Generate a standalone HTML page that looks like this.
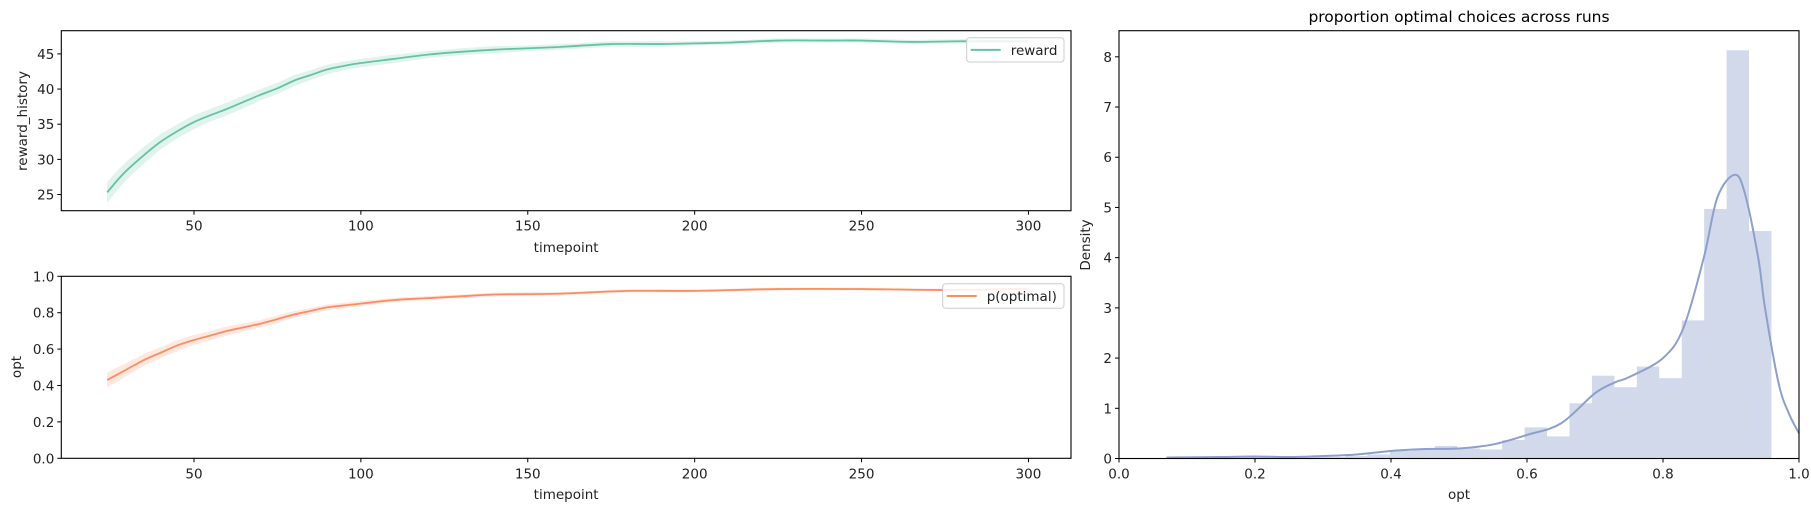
<!DOCTYPE html>
<html><head><meta charset="utf-8"><style>
html,body{margin:0;padding:0;background:#fff}
svg{display:block;font-family:"DejaVu Sans","Liberation Sans",sans-serif}
</style></head><body>
<svg id="fig" width="1811" height="511" viewBox="0 0 1811 511">
<text x="1459" y="22" font-size="15.5" text-anchor="middle" fill="#000">proportion optimal choices across runs</text>
</svg>
<script>
// ---- data ----
const rewardT = [24,27,30,35,40,45,50,55,60,65,70,75,80,85,90,95,100,110,120,130,140,150,160,175,190,200,210,225,240,250,265,280,300];
const rewardY = [25.3,27.0,28.5,30.6,32.5,34.0,35.3,36.3,37.2,38.2,39.2,40.1,41.2,42.0,42.8,43.3,43.7,44.3,44.9,45.3,45.6,45.8,46.0,46.4,46.4,46.5,46.6,46.9,46.9,46.9,46.7,46.8,46.8];
const rewardCI = [1.5,1.4,1.3,1.2,1.1,1.0,1.0,0.9,0.9,0.9,0.8,0.8,0.8,0.7,0.7,0.6,0.6,0.6,0.5,0.5,0.5,0.4,0.4,0.4,0.4,0.3,0.3,0.3,0.3,0.3,0.3,0.3,0.3];
const optT = [24,27,30,35,40,45,50,55,60,65,70,75,80,85,90,95,100,110,120,130,140,160,180,200,225,250,275,300];
const optY = [0.43,0.46,0.49,0.54,0.58,0.62,0.65,0.675,0.70,0.72,0.74,0.765,0.79,0.81,0.83,0.84,0.85,0.87,0.88,0.89,0.90,0.905,0.92,0.92,0.93,0.93,0.925,0.93];
const optCI = [0.04,0.04,0.035,0.033,0.03,0.03,0.028,0.025,0.025,0.022,0.02,0.02,0.018,0.017,0.016,0.015,0.014,0.012,0.011,0.01,0.01,0.009,0.008,0.008,0.007,0.007,0.007,0.007];
const binStart = 0.0685, binWidth = 0.033;
const binHeights = [0.02,0.02,0.02,0.05,0.02,0.02,0.03,0.03,0.05,0.08,0.15,0.17,0.25,0.2,0.18,0.37,0.62,0.44,1.1,1.65,1.42,1.83,1.6,2.75,4.97,8.13,4.53];
const kdeX = [0.07,0.15,0.2,0.25,0.3,0.35,0.4,0.45,0.5,0.55,0.6,0.65,0.7,0.73,0.75,0.8,0.83,0.86,0.88,0.905,0.92,0.94,0.95,0.97,0.985,1.0];
const kdeY = [0.02,0.03,0.04,0.03,0.05,0.08,0.15,0.19,0.2,0.28,0.47,0.7,1.3,1.52,1.62,2.0,2.6,4.0,5.2,5.65,5.3,4.0,3.0,1.5,0.9,0.5];
const xTicksTime = [50,100,150,200,250,300];
const yTicksReward = [25,30,35,40,45];
const yTicksOpt = [0,0.2,0.4,0.6,0.8,1.0];
const xTicksHist = [0,0.2,0.4,0.6,0.8,1.0];
const yTicksHist = [0,1,2,3,4,5,6,7,8];

const NS="http://www.w3.org/2000/svg";
const svg=document.getElementById('fig');
function mk(tag,attrs,parent){const e=document.createElementNS(NS,tag);for(const k in attrs)e.setAttribute(k,attrs[k]);(parent||svg).appendChild(e);return e;}
function scale(d0,d1,r0,r1){return v=>r0+(v-d0)/(d1-d0)*(r1-r0);}
function fmt(v,dec){return v.toFixed(dec);}
function smooth(pts){
  let d='M'+pts[0][0]+','+pts[0][1];
  for(let i=0;i<pts.length-1;i++){
    const p0=pts[Math.max(0,i-1)],p1=pts[i],p2=pts[i+1],p3=pts[Math.min(pts.length-1,i+2)];
    const c1=[p1[0]+(p2[0]-p0[0])/6,p1[1]+(p2[1]-p0[1])/6];
    const c2=[p2[0]-(p3[0]-p1[0])/6,p2[1]-(p3[1]-p1[1])/6];
    d+=' C'+c1[0]+','+c1[1]+' '+c2[0]+','+c2[1]+' '+p2[0]+','+p2[1];
  }
  return d;
}

function axesFrame(x0,y0,x1,y1,name){
  const r=mk('rect',{x:x0,y:y0,width:x1-x0,height:y1-y0,fill:'none',stroke:'#000','stroke-width':1.1});
  
  
}
function xTicks(ticks,sx,y,dec,name){
  ticks.forEach(t=>{const x=sx(t);
    const l=mk('line',{x1:x,x2:x,y1:y,y2:y+4,stroke:'#000'});
    
    
    const tx=mk('text',{x:x,y:y+20,'font-size':13.5,'text-anchor':'middle',fill:'#222'});
    tx.textContent=fmt(t,dec);
    
    
  });
}
function yTicks(ticks,sy,x,dec,name){
  ticks.forEach(t=>{const y=sy(t);
    const l=mk('line',{x1:x-4,x2:x,y1:y,y2:y,stroke:'#000'});
    
    
    const tx=mk('text',{x:x-7,y:y+5,'font-size':13.5,'text-anchor':'end',fill:'#222'});
    tx.textContent=fmt(t,dec);
    
    
  });
}
function label(txt,x,y,rot,name){
  const t=mk('text',{x:x,y:y,'font-size':13.5,'text-anchor':'middle',fill:'#222',transform:rot?`rotate(-90 ${x} ${y})`:''});
  t.textContent=txt;
  
  
}
function lineBand(T,Y,CI,sx,sy,color,name){
  let up=T.map((t,i)=>sx(t)+','+sy(Y[i]+CI[i]));
  let dn=T.map((t,i)=>sx(t)+','+sy(Y[i]-CI[i])).reverse();
  const b=mk('polygon',{points:up.concat(dn).join(' '),fill:color,'fill-opacity':0.2,stroke:'none'});
  
  
  const p=mk('path',{d:smooth(T.map((t,i)=>[sx(t),sy(Y[i])])),fill:'none',stroke:color,'stroke-width':1.8});
  
  
}
function legend(x0,y0,x1,y1,color,txt,name){
  const g=mk('g',{});
  
  
  mk('rect',{x:x0,y:y0,width:x1-x0,height:y1-y0,rx:3,fill:'#fff','fill-opacity':0.85,stroke:'#ccc'},g);
  const yc=(y0+y1)/2;
  mk('line',{x1:x0+4,x2:x0+34,y1:yc,y2:yc,stroke:color,'stroke-width':2},g);
  const t=mk('text',{x:x0+44,y:yc+5,'font-size':13.5,fill:'#222'},g);
  t.textContent=txt;
}

// top-left: reward
{const X0=61.3,X1=1071,Y0=30.7,Y1=210.7;
 const sx=scale(10.25,312.75,X0,X1), sy=scale(22.7,48.3,Y1,Y0);
 lineBand(rewardT,rewardY,rewardCI,sx,sy,'#66c2a5','reward');
 axesFrame(X0,Y0,X1,Y1,'reward-axes');
 xTicks(xTicksTime,sx,Y1,0,'reward-x');
 yTicks(yTicksReward,sy,X0,0,'reward-y');
 label('timepoint',(X0+X1)/2,252,false,'reward-x-axis-title');
 label('reward_history',27,121,true,'reward-y-axis-title');
 legend(966.7,37.7,1064,62,'#66c2a5','reward','reward-legend');
}
// bottom-left: opt
{const X0=61.3,X1=1071,Y0=276.3,Y1=458.3;
 const sx=scale(10.25,312.75,X0,X1), sy=scale(0,1,Y1,Y0);
 lineBand(optT,optY,optCI,sx,sy,'#fc8d62','opt');
 axesFrame(X0,Y0,X1,Y1,'opt-axes');
 xTicks(xTicksTime,sx,Y1,0,'opt-x');
 yTicks(yTicksOpt,sy,X0,1,'opt-y');
 label('timepoint',(X0+X1)/2,499,false,'opt-x-axis-title');
 label('opt',21,367,true,'opt-y-axis-title');
 legend(942.7,283.7,1064,308.3,'#fc8d62','p(optimal)','opt-legend');
}
// right: histogram
{const X0=1119,X1=1799,Y0=30.7,Y1=458.5;
 const sx=scale(0,1,X0,X1), sy=scale(0,8.52,Y1,Y0);
 binHeights.forEach((h,i)=>{
   const a=binStart+i*binWidth;
   const r=mk('rect',{x:sx(a),y:sy(h),width:sx(a+binWidth)-sx(a),height:sy(0)-sy(h),fill:'#8da0cb','fill-opacity':0.4});
   
   
 });
 const k=mk('path',{d:smooth(kdeX.map((x,i)=>[sx(x),sy(kdeY[i])])),fill:'none',stroke:'#8da0cb','stroke-width':2,'stroke-linejoin':'round'});
 
 
 axesFrame(X0,Y0,X1,Y1,'hist-axes');
 xTicks(xTicksHist,sx,Y1,1,'hist-x');
 yTicks(yTicksHist,sy,X0,0,'hist-y');
 label('opt',(X0+X1)/2,499,false,'hist-x-axis-title');
 label('Density',1090,245,true,'hist-y-axis-title');
}
</script>
</body></html>
